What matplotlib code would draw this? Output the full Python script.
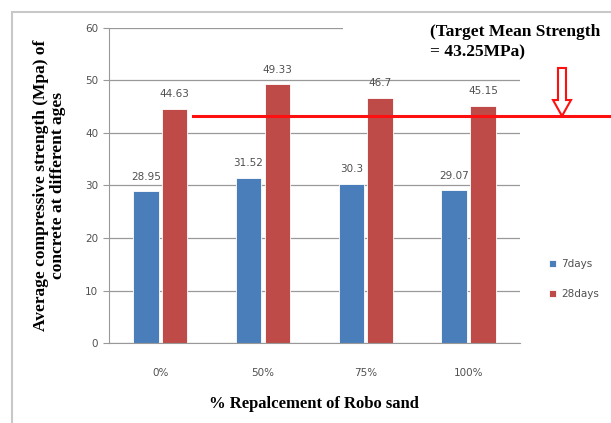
import matplotlib.pyplot as plt
import numpy as np
from matplotlib.patches import Rectangle, FancyArrow

categories = ["0%", "50%", "75%", "100%"]
days7 = [28.95, 31.52, 30.3, 29.07]
days28 = [44.63, 49.33, 46.7, 45.15]
target = 43.25

fig = plt.figure(figsize=(6.11, 4.23), dpi=100)
ax = fig.add_axes([0.178, 0.189, 0.673, 0.745])

x = np.arange(len(categories))
w = 0.25
b1 = ax.bar(x - w / 2 - 0.015, days7, w, color="#4a7ebb", edgecolor="white", linewidth=0.6, label="7days")
b2 = ax.bar(x + w / 2 + 0.015, days28, w, color="#be4b48", edgecolor="white", linewidth=0.6, label="28days")

for bars, vals in [(b1, days7), (b2, days28)]:
    for r, v in zip(bars, vals):
        ax.text(r.get_x() + r.get_width() / 2, v + 1.8, f"{v:g}", ha="center", va="bottom",
                fontsize=7.5, color="#505050")

ax.set_xlim(-0.5, 3.5)
ax.set_ylim(0, 60)
ax.set_yticks(range(0, 61, 10))
ax.set_xticks(x)
ax.set_xticklabels(categories)
ax.tick_params(axis="y", labelsize=7.5, colors="#505050", length=4, color="#999999")
ax.tick_params(axis="x", labelsize=7.5, colors="#505050", length=0, pad=18)
ax.grid(axis="y", color="#999999", linewidth=0.9)
ax.set_axisbelow(True)
for s in ["top", "right"]:
    ax.spines[s].set_visible(False)
ax.spines["left"].set_color("#999999")
ax.spines["bottom"].set_color("#999999")

ax.set_xlabel("% Repalcement of Robo sand", fontsize=12, fontweight="bold",
              family="Liberation Serif", labelpad=13)
ax.set_ylabel("Average compressive strength (Mpa) of\nconcrete at different ages", fontsize=12.5,
              fontweight="bold", family="Liberation Serif", labelpad=14, linespacing=1.05)

# target strength line running past the plot area
ax.plot([0.32, 4.4], [target, target], color="#ff1010", linewidth=2.2, clip_on=False, zorder=5)

# white panel behind the annotation text
fig.patches.append(Rectangle((343 / 611, 1 - 75 / 423), 268 / 611, 60 / 423,
                             transform=fig.transFigure, facecolor="white", edgecolor="none", zorder=3))
fig.text(430 / 611, 1 - 42 / 423, "(Target Mean Strength\n= 43.25MPa)", fontsize=12.5,
         fontweight="bold", family="Liberation Serif", ha="left", va="center", linespacing=1.4, zorder=4)

fig.patches.append(FancyArrow(562 / 611, 1 - 68 / 423, 0, -48 / 423, width=8 / 611,
                              head_width=18 / 611, head_length=16 / 423, length_includes_head=True,
                              transform=fig.transFigure, facecolor="white", edgecolor="#ff1010",
                              linewidth=1.5, zorder=6))

# outer border
fig.patches.append(Rectangle((12 / 611, -0.05), 1.2, 1 - 12 / 423 + 0.05, transform=fig.transFigure,
                             facecolor="none", edgecolor="#c8c8c8", linewidth=1.5))

fig.legend(loc="center left", bbox_to_anchor=(540 / 611, 1 - 279 / 423), frameon=False,
           fontsize=7.5, handlelength=0.6, handleheight=0.6, handletextpad=0.5,
           labelspacing=1.9, labelcolor="#505050")

fig.savefig("out.png", dpi=100)
